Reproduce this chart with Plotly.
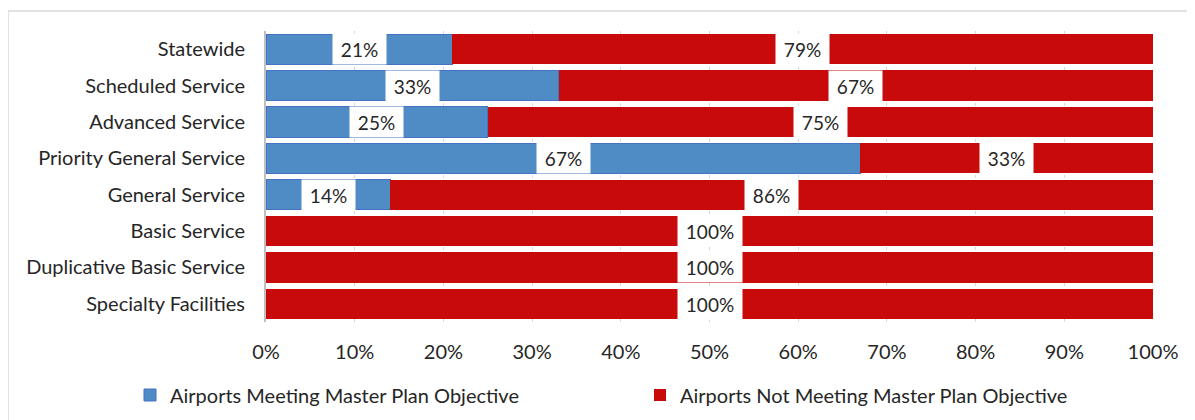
import plotly.graph_objects as go

categories = ["Statewide", "Scheduled Service", "Advanced Service", "Priority General Service",
              "General Service", "Basic Service", "Duplicative Basic Service", "Specialty Facilities"]
meeting = [21, 33, 25, 67, 14, 0, 0, 0]
not_meeting = [79, 67, 75, 33, 86, 100, 100, 100]
series_names = ["Airports Meeting Master Plan Objective", "Airports Not Meeting Master Plan Objective"]
tick_vals = [0, 10, 20, 30, 40, 50, 60, 70, 80, 90, 100]
tick_text = [f"{v}%" for v in tick_vals]

BLUE = "#4F8BC5"
RED = "#C80A0A"
FONT = "Lato"
FS = 20

fig = go.Figure()
fig.add_trace(go.Bar(y=categories, x=meeting, orientation="h", name=series_names[0],
                     marker=dict(color=BLUE, line=dict(color="#4472C4", width=1))))
fig.add_trace(go.Bar(y=categories, x=not_meeting, orientation="h", name=series_names[1],
                     marker=dict(color=RED, line=dict(color=RED, width=0))))

annotations = []
for cat, m, n in zip(categories, meeting, not_meeting):
    for base, val in ((0, m), (m, n)):
        if val <= 0:
            continue
        label = f"{val}%"
        annotations.append(dict(x=base + val / 2, y=cat, xref="x", yref="y", text=label,
                                showarrow=False, bgcolor="white", borderpad=3,
                                width=14 + 11 * len(label), height=24,
                                font=dict(family=FONT, size=19, color="#262626")))

# page is drawn with an 8px body offset
L, R, T, B = 258, 50, 23, 106
W, H = 1195, 420
pw, ph = W - L - R, H - T - B

fig.update_layout(
    width=W, height=H, barmode="stack", bargap=0.17,
    margin=dict(l=L, r=R, t=T, b=B, autoexpand=False),
    paper_bgcolor="white", plot_bgcolor="white",
    font=dict(family=FONT, size=FS, color="#262626"),
    annotations=annotations,
    xaxis=dict(range=[0, 100], tickvals=tick_vals, ticktext=tick_text, showgrid=True,
               gridcolor="#D9D9D9", griddash="dot", gridwidth=1, zeroline=False,
               ticklabelstandoff=16, tickfont=dict(size=FS, color="#262626"), fixedrange=True,
               automargin=False),
    yaxis=dict(autorange="reversed", showline=True, linecolor="#BFBFBF", linewidth=2,
               ticks="", ticklabelstandoff=15, tickfont=dict(size=FS, color="#262626"),
               automargin=False),
    legend=dict(orientation="h", x=(122 - L) / pw, xanchor="left",
                y=(T + ph - 387) / ph, yanchor="middle",
                font=dict(size=FS, color="#262626"), entrywidth=465, itemwidth=30,
                traceorder="normal"),
    shapes=[dict(type="rect", xref="paper", yref="paper",
                 x0=(0 - L) / pw, x1=(1210 - L) / pw,
                 y0=-(430 - (T + ph)) / ph, y1=1 + (T - 3) / ph,
                 line=dict(color="#D9D9D9", width=1.5), layer="below")],
)

fig.write_html("out.html")
